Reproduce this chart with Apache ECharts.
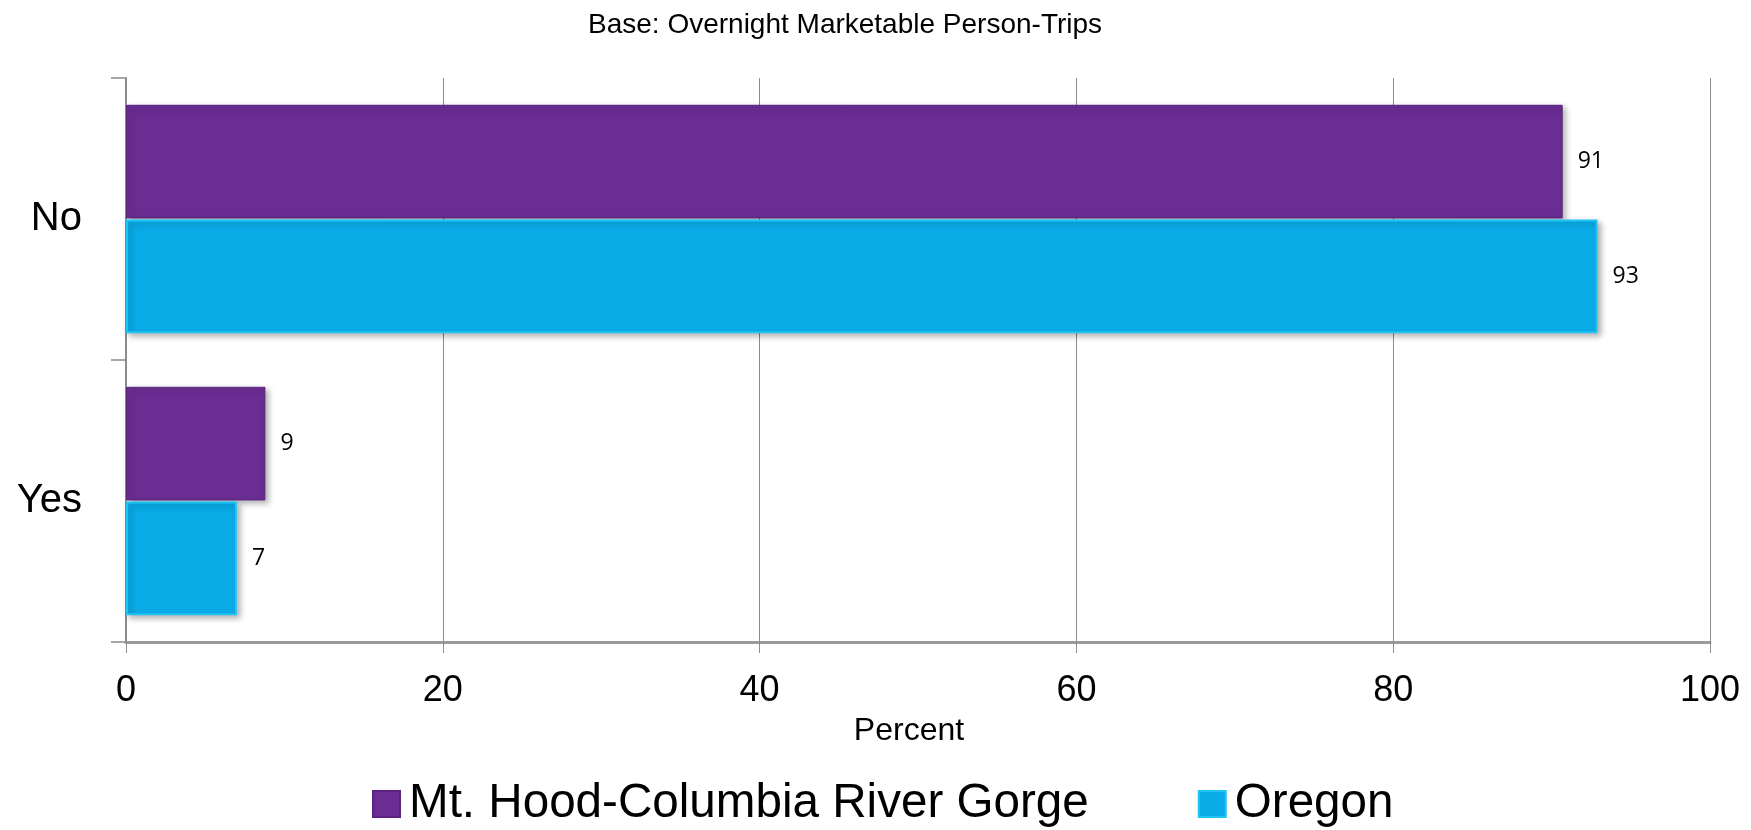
<!DOCTYPE html>
<html>
<head>
<meta charset="utf-8">
<script src="https://cdn.jsdelivr.net/npm/echarts@6/dist/echarts.min.js"></script>
<style>
html,body{margin:0;padding:0;background:#fff;}
#chart{width:1751px;height:830px;}
</style>
</head>
<body>
<div id="chart"></div>
<script>
const categories = ['No', 'Yes'];
const seriesNames = ['Mt. Hood-Columbia River Gorge', 'Oregon'];
const mtHoodValues = [90.7, 8.8];
const oregonValues = [92.9, 7.0];
const xTicks = [0, 20, 40, 60, 80, 100];
const titleText = 'Base: Overnight Marketable Person-Trips';
const xAxisName = 'Percent';

const chart = echarts.init(document.getElementById('chart'), null, {renderer: 'canvas'});

const labelCfg = {
  show: true,
  position: 'right',
  distance: 15,
  color: '#000',
  fontFamily: '"Open Sans", sans-serif',
  fontSize: 23,
  formatter: p => Math.round(p.value)
};

chart.setOption({
  backgroundColor: '#ffffff',
  animation: false,
  title: {
    text: titleText,
    left: 583,
    top: 6,
    textStyle: {fontFamily: '"Liberation Sans", Arial, sans-serif', fontSize: 28, fontWeight: 'normal', color: '#000'}
  },
  legend: {
    data: seriesNames,
    left: 367,
    top: 775,
    itemWidth: 27,
    itemHeight: 26,
    itemGap: 109,
    icon: 'rect',
    textStyle: {fontFamily: '"Liberation Sans", Arial, sans-serif', fontSize: 47.6, color: '#000', padding: [0, 0, 0, 4]}
  },
  grid: {left: 126, right: 41, top: 78, bottom: 188, containLabel: false},
  xAxis: {
    type: 'value',
    min: xTicks[0],
    max: xTicks[xTicks.length - 1],
    interval: 20,
    name: xAxisName,
    nameLocation: 'middle',
    nameGap: 73,
    nameTextStyle: {fontFamily: '"Liberation Sans", Arial, sans-serif', fontSize: 32, color: '#000', padding: [0, 18, 0, 0]},
    axisLine: {show: true, lineStyle: {color: '#9a9a9a', width: 3}},
    axisTick: {show: true, length: 11, lineStyle: {color: '#8c8c8c', width: 1}},
    axisLabel: {fontFamily: '"Liberation Sans", Arial, sans-serif', fontSize: 36, color: '#000', margin: 31},
    splitLine: {show: true, lineStyle: {color: '#8c8c8c', width: 1}}
  },
  yAxis: {
    type: 'category',
    data: categories,
    inverse: true,
    axisLine: {show: true, lineStyle: {color: '#8c8c8c', width: 2}},
    axisTick: {show: true, length: 15, lineStyle: {color: '#8c8c8c', width: 1.5}},
    axisLabel: {fontFamily: '"Liberation Sans", Arial, sans-serif', fontSize: 40, color: '#000', margin: 44}
  },
  series: [
    {
      name: seriesNames[0],
      type: 'bar',
      data: mtHoodValues,
      barGap: '1%',
      barCategoryGap: '19%',
      itemStyle: {color: '#6a2d93', borderColor: '#5c2480', borderWidth: 1, shadowColor: 'rgba(0,0,0,0.3)', shadowBlur: 6, shadowOffsetX: 3, shadowOffsetY: 3},
      label: labelCfg
    },
    {
      name: seriesNames[1],
      type: 'bar',
      data: oregonValues,
      barGap: '1%',
      barCategoryGap: '19%',
      itemStyle: {color: '#0aace8', borderColor: '#1fc4f5', borderWidth: 2, shadowColor: 'rgba(0,0,0,0.3)', shadowBlur: 6, shadowOffsetX: 3, shadowOffsetY: 3},
      label: labelCfg
    }
  ]
});
</script>
</body>
</html>
